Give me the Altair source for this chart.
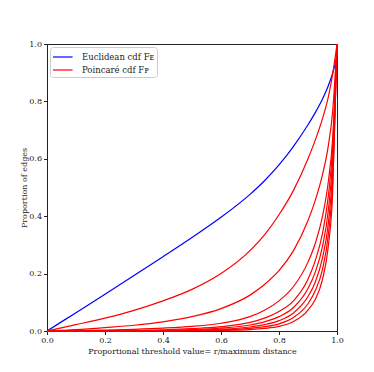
import altair as alt
import pandas as pd

x_grid = [0, 0.1, 0.2, 0.3, 0.4, 0.5, 0.6, 0.7, 0.75, 0.8, 0.85, 0.9, 0.925, 0.95, 0.97, 0.985, 1.0]

euclid = [0, 0.064, 0.128, 0.193, 0.259, 0.326, 0.396, 0.476, 0.5235, 0.5785, 0.6435, 0.7185, 0.761, 0.8085, 0.8545, 0.898, 0.955]

poincare = [
    [0, 0.022, 0.045, 0.072, 0.105, 0.145, 0.2, 0.28, 0.335, 0.405, 0.49, 0.6, 0.665, 0.74, 0.815, 0.895, 1.0],
    [0, 0.005, 0.012, 0.02, 0.032, 0.05, 0.078, 0.125, 0.162, 0.21, 0.28, 0.385, 0.455, 0.545, 0.645, 0.765, 1.0],
    [0, 0.001, 0.003, 0.006, 0.01, 0.016, 0.027, 0.05, 0.072, 0.105, 0.155, 0.24, 0.305, 0.4, 0.52, 0.67, 1.0],
    [0, 0.0005, 0.001, 0.002, 0.004, 0.008, 0.015, 0.03, 0.045, 0.068, 0.105, 0.18, 0.245, 0.34, 0.47, 0.64, 1.0],
    [0, 0, 0.0005, 0.001, 0.002, 0.005, 0.01, 0.021, 0.032, 0.05, 0.082, 0.148, 0.205, 0.295, 0.42, 0.6, 1.0],
    [0, 0, 0, 0.0005, 0.001, 0.003, 0.006, 0.014, 0.022, 0.036, 0.063, 0.12, 0.17, 0.255, 0.375, 0.56, 1.0],
    [0, 0, 0, 0, 0.0005, 0.0015, 0.004, 0.009, 0.015, 0.025, 0.047, 0.095, 0.14, 0.215, 0.335, 0.52, 1.0],
    [0, 0, 0, 0, 0, 0.001, 0.002, 0.005, 0.009, 0.016, 0.033, 0.073, 0.11, 0.18, 0.295, 0.48, 1.0],
]

labels = ["Euclidean cdf Fᴇ", "Poincaré cdf Fᴘ"]
colors = ["#0000ff", "#ff0000"]

rows = []
for i, (xv, yv) in enumerate(zip(x_grid, euclid)):
    rows.append({"x": xv, "y": yv, "curve": "E", "kind": labels[0], "order": i})
for k, series in enumerate(poincare):
    for i, (xv, yv) in enumerate(zip(x_grid, series)):
        rows.append({"x": xv, "y": yv, "curve": f"P{k}", "kind": labels[1], "order": i})
df = pd.DataFrame(rows)

FONT = "DejaVu Serif"

chart = alt.Chart(df).mark_line(strokeWidth=1.2, interpolate="monotone").encode(
    x=alt.X("x:Q", scale=alt.Scale(domain=[0, 1], nice=False),
            axis=alt.Axis(title="Proportional threshold value= r/maximum distance",
                          values=[0, 0.2, 0.4, 0.6, 0.8, 1.0], format=".1f", grid=False,
                          labelFlush=False, labelOverlap=False)),
    y=alt.Y("y:Q", scale=alt.Scale(domain=[0, 1], nice=False),
            axis=alt.Axis(title="Proportion of edges",
                          values=[0, 0.2, 0.4, 0.6, 0.8, 1.0], format=".1f", grid=False,
                          labelFlush=False, labelOverlap=False)),
    color=alt.Color("kind:N", scale=alt.Scale(domain=labels, range=colors),
                    legend=alt.Legend(title=None, orient="none", legendX=3, legendY=3,
                                      symbolType="M-1,0H1.8", symbolStrokeWidth=1.2,
                                      symbolSize=196, labelFont=FONT, labelFontSize=8.5,
                                      labelColor="#222", fillColor="white",
                                      strokeColor="#cccccc", cornerRadius=3, padding=2,
                                      rowPadding=-1, labelOffset=14)),
    detail="curve:N",
    order="order:Q",
).properties(
    width=290, height=287,
    padding={"left": 39, "top": 36, "right": 20, "bottom": 28},
    autosize="none",
).configure_view(
    stroke="#222", strokeWidth=1
).configure_axis(
    labelFont=FONT, titleFont=FONT, labelFontSize=8, titleFontSize=8,
    titleFontWeight="normal", labelColor="#222", titleColor="#222",
    domainColor="#222", tickColor="#222", tickSize=3.5, domainWidth=1,
    labelPadding=2,
).configure_axisX(titlePadding=3).configure_axisY(titlePadding=0)

chart.save("out.html", embed_options={"renderer": "svg", "actions": False})
